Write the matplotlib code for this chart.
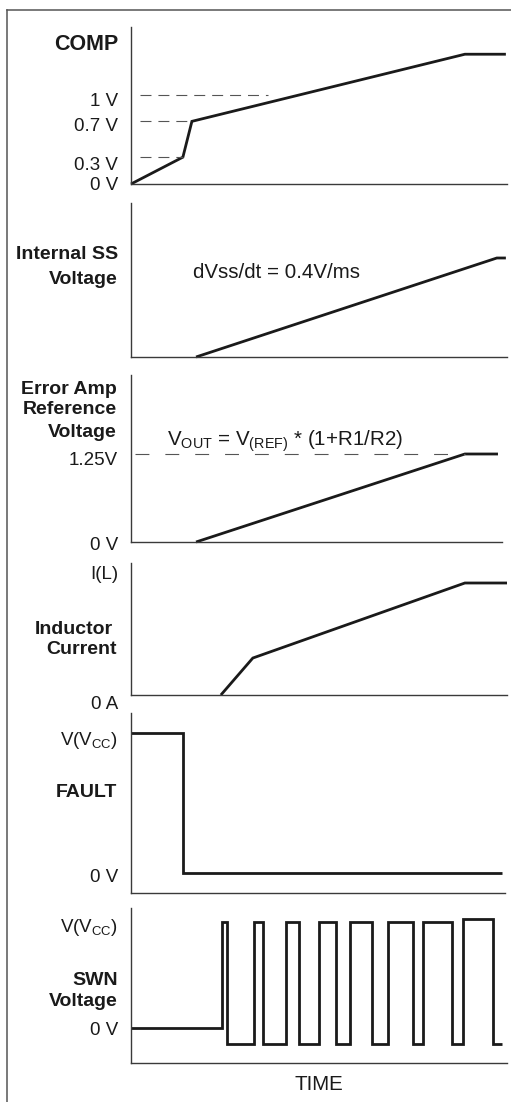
import matplotlib
matplotlib.use('Agg')
import matplotlib.pyplot as plt
from matplotlib import transforms
from matplotlib.lines import Line2D

# ---------------- data (schematic time units 0..100) ----------------
time_max = 100.0

# COMP
comp_t = [0, 13.8, 16.2, 88.8, 99.7]
comp_v = [0, 0.3, 0.7, 1.45, 1.45]
comp_ref_levels = [1.0, 0.7, 0.3]
comp_ref_ends = [36.4, 16.2, 13.8]
comp_ref_start = 2.4
comp_tick_vals = [1.0, 0.7, 0.3, 0.0]
comp_tick_labels = ['1 V', '0.7 V', '0.3 V', '0 V']

# Internal soft-start voltage
ss_t = [17.3, 97.3, 99.7]
ss_v = [0, 1.25, 1.25]
ss_note = 'dVss/dt = 0.4V/ms'

# Error amp reference voltage
ref_t = [17.3, 88.8, 97.6]
ref_v = [0, 1.25, 1.25]
ref_level = 1.25
ref_dash_t = [1.1, 88.8]
ref_tick_vals = [1.25, 0.0]
ref_tick_labels = ['1.25V', '0 V']
ref_note = r'V$_{\mathrm{OUT}}$ = V$_{\mathrm{(REF)}}$ * (1+R1/R2)'

# Inductor current (normalised to I(L))
ind_t = [23.9, 32.4, 88.8, 100.0]
ind_i = [0, 0.33, 1.0, 1.0]
ind_tick_vals = [1.0, 0.0]
ind_tick_labels = ['I(L)', '0 A']

# FAULT (normalised to Vcc)
fault_t = [0, 13.8, 13.8, 98.7]
fault_v = [1, 1, 0, 0]
vcc_label = r'V(V$_{\mathrm{CC}}$)'

# SWN switching node (normalised to Vcc)
swn_rise = [24.1, 32.7, 41.2, 50.0, 58.2, 68.3, 77.7, 88.2]
swn_fall = [25.4, 35.2, 44.7, 54.5, 64.0, 75.1, 85.5, 96.2]
swn_high = [1.0, 1.0, 1.0, 1.0, 1.0, 1.0, 1.0, 1.03]
swn_low = -0.15
swn_end = 98.6

panel_titles = [['COMP'], ['Internal SS', 'Voltage'],
                ['Error Amp', 'Reference', 'Voltage'],
                ['Inductor', 'Current'], ['FAULT'], ['SWN', 'Voltage']]

# ---------------- style ----------------
plt.rcParams['font.family'] = ['Liberation Sans', 'DejaVu Sans']
plt.rcParams['mathtext.fontset'] = 'custom'
plt.rcParams['mathtext.rm'] = 'Liberation Sans'
plt.rcParams['mathtext.it'] = 'Liberation Sans:italic'
plt.rcParams['mathtext.bf'] = 'Liberation Sans:bold'
plt.rcParams['lines.scale_dashes'] = False

W, H, DPI = 511, 1102, 100
fig = plt.figure(figsize=(W / DPI, H / DPI), dpi=DPI)
fig.patch.set_facecolor('white')

INK = '#1a1a1a'
SIG = dict(color=INK, lw=2.0, solid_joinstyle='miter', solid_capstyle='butt', clip_on=False)
AXC = '#3a3a3a'
FS_B = 14
FS_R = 13.5
FS_NOTE = 14.75
PX = 72.0 / DPI  # points per pixel
NARROW = ['Liberation Sans Narrow', 'Liberation Sans', 'DejaVu Sans']


def make_ax(top, bottom, ymin, ymax, left=131, right=507):
    ax = fig.add_axes([left / W, 1 - bottom / H, (right - left) / W, (bottom - top) / H])
    ax.set_xlim(0, time_max)
    ax.set_ylim(ymin, ymax)
    for s in ('top', 'right'):
        ax.spines[s].set_visible(False)
    for s in ('left', 'bottom'):
        ax.spines[s].set_color(AXC)
        ax.spines[s].set_linewidth(1.0)
    ax.set_xticks([])
    ax.set_yticks([])
    ax.patch.set_alpha(0)
    return ax


def vlabel(ax, y, text, dy_px, **kw):
    tr = transforms.offset_copy(ax.get_yaxis_transform(), fig=fig, x=-13 * PX, y=-dy_px * PX,
                                units='points')
    ax.text(0, y, text, transform=tr, ha='right', va='baseline', fontsize=FS_R, color=INK, **kw)


def title(lines, xs, ys, size=FS_B, ha='right'):
    for s, x, y in zip(lines, xs, ys):
        fig.text(x / W, 1 - y / H, s, ha=ha, va='baseline', fontsize=size,
                 fontweight='bold', color=INK)


# ---- Panel 1: COMP ----
s1 = 89.5
ax1 = make_ax(27, 184, 0, 157 / s1)
ax1.plot(comp_t, comp_v, **SIG)
for lv, te in zip(comp_ref_levels, comp_ref_ends):
    ax1.plot([comp_ref_start, te], [lv, lv], color='#555555', lw=0.8, dashes=(7.9, 5.0))
for v, lab, dy in zip(comp_tick_vals, comp_tick_labels, [12, 10, 12.5, 5.5]):
    vlabel(ax1, v, lab, dy, family=NARROW)
title(panel_titles[0], [118], [50], size=15.5)

# ---- Panel 2: Internal SS ----
s2 = 99 / 1.25
ax2 = make_ax(203, 357, 0, 154 / s2)
ax2.plot(ss_t, ss_v, **SIG)
ax2.text(16.5, 1.073, ss_note, ha='left', va='center', fontsize=FS_NOTE, color=INK)
title(panel_titles[1], [118, 118], [259, 284])

# ---- Panel 3: Error Amp reference ----
s3 = 88 / 1.25
ax3 = make_ax(375, 542, 0, 167 / s3)
ax3.spines['bottom'].set_bounds(0, 98.7)
ax3.plot(ref_t, ref_v, **SIG)
ax3.plot(ref_dash_t, [ref_level, ref_level], color='#555555', lw=0.8, dashes=(10, 11.5))
ax3.text(9.6, 96 / s3, ref_note, ha='left', va='baseline', fontsize=FS_NOTE, color=INK)
for v, lab, dy in zip(ref_tick_vals, ref_tick_labels, [10.7, 7.7]):
    vlabel(ax3, v, lab, dy)
title(panel_titles[2], [117, 117, 117], [394, 414, 437])

# ---- Panel 4: Inductor current ----
s4 = 112.0
ax4 = make_ax(563, 695, 0, 132 / s4)
ax4.plot(ind_t, ind_i, **SIG)
for v, lab, dy in zip(ind_tick_vals, ind_tick_labels, [-4.3, 13.7]):
    vlabel(ax4, v, lab, dy)
title(panel_titles[3], [113, 117], [634, 654])

# ---- Panel 5: FAULT ----
s5 = 140.0
ax5 = make_ax(713, 893, -20 / s5, 160 / s5)
ax5.spines['bottom'].set_bounds(0, 99.5)
ax5.plot(fault_t, fault_v, **SIG)
vlabel(ax5, 1.0, vcc_label, 11.7)
vlabel(ax5, 0.0, '0 V', 8.7)
title(panel_titles[4], [117], [797])

# ---- Panel 6: SWN ----
s6 = 106.0
ax6 = make_ax(908, 1063, -35 / s6, 120 / s6)
xs, ys, lvl = [0.0], [0.0], 0.0
for r, f, h in zip(swn_rise, swn_fall, swn_high):
    xs += [r, r, f, f]
    ys += [lvl, h, h, swn_low]
    lvl = swn_low
xs.append(swn_end)
ys.append(swn_low)
ax6.plot(xs, ys, **SIG)
vlabel(ax6, 1.0, vcc_label, 9.7)
vlabel(ax6, 0.0, '0 V', 6.7)
title(panel_titles[5], [118, 118], [985, 1006])
ax6.set_xlabel('TIME', fontsize=FS_NOTE, color=INK, labelpad=9)

# ---- outer frame (top and left edges) ----
fig.add_artist(Line2D([7 / W, 7 / W], [0, 1 - 10 / H], transform=fig.transFigure,
                      color='#555555', lw=1.1))
fig.add_artist(Line2D([7 / W, 1], [1 - 10 / H, 1 - 10 / H], transform=fig.transFigure,
                      color='#555555', lw=1.1))

fig.savefig('out.png', dpi=DPI, facecolor='white')
